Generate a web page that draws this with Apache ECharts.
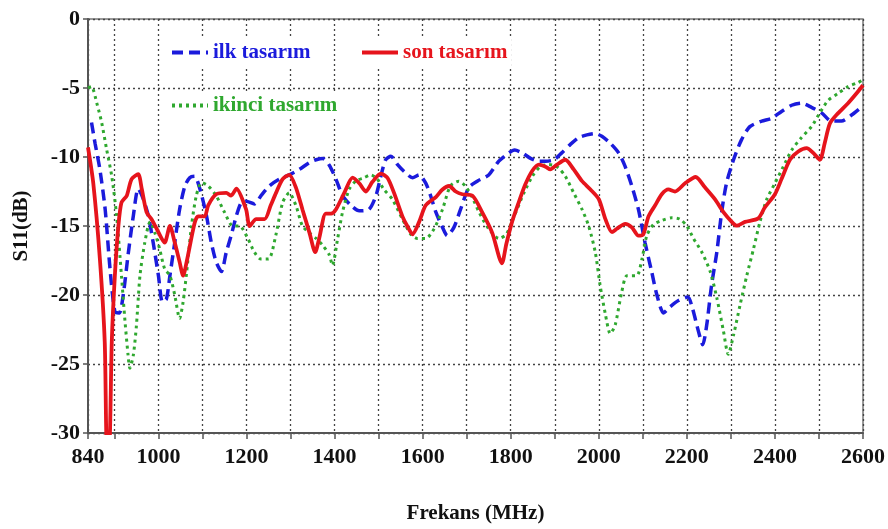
<!DOCTYPE html>
<html><head><meta charset="utf-8">
<script src="https://cdn.jsdelivr.net/npm/echarts@6/dist/echarts.min.js"></script>
<style>html,body{margin:0;padding:0;background:#fff}#c{width:888px;height:529px}</style>
</head><body><div id="c"></div>
<script>
// ---- data ----
const xTickValues = [840,900,1000,1100,1200,1300,1400,1500,1600,1700,1800,1900,2000,2100,2200,2300,2400,2500,2600];
const xLabelValues = [840,1000,1200,1400,1600,1800,2000,2200,2400,2600];

const ilkFreq = [848,856,867,879,890,901,911,920,931,943,954,965,977,988,1000,1009,1018,1026,1037,1048,1060,1071,1082,1094,1109,1120,1131,1143,1154,1165,1177,1188,1199,1218,1233,1252,1275,1297,1320,1343,1358,1373,1388,1403,1418,1437,1456,1478,1494,1505,1516,1528,1543,1558,1577,1592,1607,1618,1630,1645,1656,1671,1686,1705,1724,1750,1773,1796,1809,1826,1845,1864,1879,1898,1916,1935,1954,1973,1992,2007,2026,2045,2060,2075,2090,2105,2120,2132,2147,2162,2181,2202,2213,2226,2236,2245,2256,2268,2279,2290,2306,2324,2343,2370,2392,2415,2438,2460,2483,2506,2528,2551,2574,2596];
const ilkVal = [-7.5,-9,-10.9,-13.8,-18.1,-21.2,-21.3,-20,-17.1,-14.25,-12.3,-13,-14.25,-16.2,-18.6,-20.5,-20.3,-18.6,-16.2,-13.8,-12.1,-11.5,-11.4,-12.3,-14.25,-16.2,-17.6,-18.3,-16.9,-15.7,-14.25,-13.3,-13.2,-13.4,-12.8,-12.1,-11.6,-11.3,-10.9,-10.4,-10.2,-10.1,-10.6,-11.6,-12.8,-13.5,-13.9,-13.8,-12.8,-11.4,-10.2,-9.95,-10.55,-11.05,-11.5,-11.3,-11.9,-12.8,-14,-15.1,-15.7,-15.1,-13.8,-12.2,-11.75,-11.3,-10.3,-9.7,-9.5,-9.7,-10.1,-10.3,-10.3,-10.2,-9.7,-9.1,-8.6,-8.4,-8.3,-8.5,-9,-9.7,-10.7,-12.1,-13.8,-16.2,-18.3,-20,-21.3,-20.85,-20.4,-20.15,-21,-22.6,-23.6,-22.2,-19.3,-16.9,-14,-11.9,-10.2,-8.76,-7.8,-7.4,-7.2,-6.7,-6.25,-6.1,-6.4,-6.8,-7.4,-7.4,-6.96,-6.4];

const ikinciFreq = [840,848,860,871,882,894,905,916,924,931,935,943,950,958,969,981,992,1003,1014,1026,1037,1048,1056,1064,1075,1086,1098,1113,1131,1150,1169,1184,1203,1218,1233,1250,1267,1282,1297,1312,1327,1343,1358,1373,1388,1395,1407,1418,1433,1448,1467,1482,1497,1512,1531,1554,1573,1588,1607,1626,1645,1663,1682,1697,1713,1728,1750,1773,1790,1809,1830,1849,1867,1886,1905,1924,1943,1962,1977,1992,2003,2015,2026,2037,2052,2064,2086,2098,2109,2124,2143,2166,2184,2200,2215,2234,2253,2268,2283,2294,2306,2321,2336,2351,2366,2381,2400,2419,2438,2460,2483,2502,2521,2543,2566,2589,2598];
const ikinciVal = [-5,-4.9,-6.1,-7.5,-9.4,-11.4,-14.25,-18.6,-21.9,-24.35,-25.3,-24.35,-22.2,-18.6,-16.2,-14.7,-15.5,-16.7,-18.1,-18.6,-20,-21.7,-20.5,-18.35,-15,-12.8,-11.85,-12.1,-12.8,-14,-15,-15,-15.9,-16.9,-17.4,-17.4,-15.6,-13.3,-12.6,-13.5,-15,-15.5,-15.9,-16.4,-17.1,-17.85,-15.9,-14,-12.35,-11.75,-11.5,-11.3,-11.6,-12.35,-13.05,-14.5,-15.6,-15.9,-15.9,-15.2,-13.8,-12.1,-11.75,-12.1,-12.95,-14,-15.2,-15.9,-15.6,-14.2,-12.6,-11.4,-10.7,-10.55,-10.7,-11.4,-12.6,-13.8,-15,-16.9,-19.3,-21.4,-22.8,-22.2,-19.8,-18.6,-18.6,-17.4,-15.7,-14.9,-14.6,-14.4,-14.5,-15,-15.9,-16.9,-18.3,-20.2,-22.6,-24.3,-22.9,-20.7,-18.6,-16.7,-14.7,-13.1,-11.9,-10.7,-9.5,-8.6,-7.8,-6.8,-5.9,-5.4,-4.9,-4.6,-4.45];

const sonFreq = [840,852,867,878,883,888,894,901,909,916,928,939,954,962,973,984,996,1014,1026,1037,1048,1056,1064,1082,1090,1105,1113,1131,1154,1165,1177,1199,1207,1222,1241,1255,1267,1282,1297,1312,1327,1343,1356,1365,1380,1392,1403,1422,1441,1456,1471,1486,1505,1520,1535,1554,1565,1577,1592,1607,1630,1645,1660,1675,1690,1713,1735,1758,1780,1790,1803,1818,1833,1849,1864,1879,1890,1905,1924,1943,1962,1981,2000,2015,2030,2041,2060,2075,2090,2101,2113,2128,2143,2158,2173,2196,2220,2241,2264,2283,2302,2313,2332,2362,2377,2400,2415,2434,2453,2472,2487,2502,2513,2525,2543,2566,2585,2600];
const sonVal = [-9.3,-11.9,-17.4,-23.4,-31,-31,-23.4,-18.6,-15,-13.3,-12.8,-11.6,-11.25,-12.3,-14,-14.5,-15.2,-16.2,-15,-16.2,-17.6,-18.6,-17.6,-14.8,-14.3,-14.3,-13.5,-12.7,-12.6,-12.8,-12.3,-13.8,-15,-14.5,-14.5,-13.5,-12.6,-11.6,-11.3,-12.2,-13.8,-15.5,-16.9,-15.9,-14.1,-14.1,-13.8,-12.6,-11.5,-11.9,-12.5,-11.8,-11.2,-11.5,-12.6,-14.3,-15,-15.6,-14.7,-13.5,-12.9,-12.35,-12.1,-12.5,-12.7,-12.8,-14,-15.5,-17.7,-16.3,-14.7,-13.3,-12,-11,-10.55,-10.7,-10.9,-10.55,-10.2,-10.9,-11.75,-12.35,-13.05,-14.5,-15.45,-15.2,-14.85,-15.1,-15.7,-15.6,-14.3,-13.5,-12.7,-12.35,-12.5,-11.9,-11.45,-12.2,-13.07,-14,-14.7,-14.98,-14.7,-14.45,-13.66,-12.7,-11.6,-10.2,-9.6,-9.36,-9.7,-10.2,-9,-7.56,-6.84,-6.1,-5.4,-4.8];

const zip = (a, b) => a.map((v, i) => [v, b[i]]);

const serifFont = '"Liberation Serif", "Times New Roman", serif';
const C_BLUE = '#1b1bdc', C_RED = '#e6141c', C_GREEN = '#2fa82f';

const chart = echarts.init(document.getElementById('c'), null, {renderer: 'canvas'});
const legendBase = {
  orient: 'horizontal', backgroundColor: '#fff', padding: [3, 4],
  itemWidth: 36, itemHeight: 12, selectedMode: false,
  itemStyle: {opacity: 0},
  lineStyle: {width: 4},
  textStyle: {fontFamily: serifFont, fontWeight: 'bold', fontSize: 21}
};
chart.setOption({
  animation: false,
  backgroundColor: '#fff',
  grid: {left: 88, right: 24, top: 19, bottom: 95, show: true, borderColor: '#777', borderWidth: 1.5, backgroundColor: 'transparent'},
  legend: [
    Object.assign({}, legendBase, {data: ['ilk tasarım'], left: 166, top: 39, textStyle: Object.assign({}, legendBase.textStyle, {color: C_BLUE})}),
    Object.assign({}, legendBase, {data: ['son tasarım'], left: 356, top: 39, textStyle: Object.assign({}, legendBase.textStyle, {color: C_RED})}),
    Object.assign({}, legendBase, {data: ['ikinci tasarım'], left: 166, top: 92, textStyle: Object.assign({}, legendBase.textStyle, {color: C_GREEN})})
  ],
  xAxis: {
    type: 'value', min: 840, max: 2600,
    name: 'Frekans (MHz)', nameLocation: 'middle', nameGap: 70,
    nameTextStyle: {fontFamily: serifFont, fontWeight: 'bold', fontSize: 21, color: '#111'},
    axisLine: {show: true, onZero: false, lineStyle: {color: '#555', width: 2}},
    axisTick: {show: true, inside: false, length: 6, customValues: xTickValues, lineStyle: {color: '#555', width: 1.5}},
    axisLabel: {customValues: xLabelValues, margin: 13, formatter: v => String(v), fontFamily: serifFont, fontWeight: 'bold', fontSize: 22, color: '#111'},
    splitLine: {show: true, lineStyle: {color: '#444', type: [2, 3], width: 1.3}}
  },
  yAxis: {
    type: 'value', min: -30, max: 0, interval: 5,
    name: 'S11(dB)', nameLocation: 'middle', nameGap: 56,
    nameTextStyle: {fontFamily: serifFont, fontWeight: 'bold', fontSize: 21, color: '#111'},
    axisLine: {show: true, onZero: false, lineStyle: {color: '#555', width: 2}},
    axisTick: {show: true, inside: false, length: 5, lineStyle: {color: '#555', width: 1.5}},
    axisLabel: {margin: 8, fontFamily: serifFont, fontWeight: 'bold', fontSize: 22, color: '#111'},
    splitLine: {show: true, lineStyle: {color: '#444', type: [2, 3], width: 1.3}}
  },
  series: [
    {name: 'ilk tasarım', type: 'line', data: zip(ilkFreq, ilkVal), showSymbol: false, symbol: 'none', smooth: 0.25, clip: true,
     lineStyle: {color: C_BLUE, width: 3.5, type: [11, 6]}, itemStyle: {color: C_BLUE}, z: 3},
    {name: 'ikinci tasarım', type: 'line', data: zip(ikinciFreq, ikinciVal), showSymbol: false, symbol: 'none', smooth: 0.25, clip: true,
     lineStyle: {color: C_GREEN, width: 3, type: [3, 4]}, itemStyle: {color: C_GREEN}, z: 3},
    {name: 'son tasarım', type: 'line', data: zip(sonFreq, sonVal), showSymbol: false, symbol: 'none', smooth: 0.25, clip: true,
     lineStyle: {color: C_RED, width: 3.8}, itemStyle: {color: C_RED}, z: 4}
  ]
});
</script></body></html>
